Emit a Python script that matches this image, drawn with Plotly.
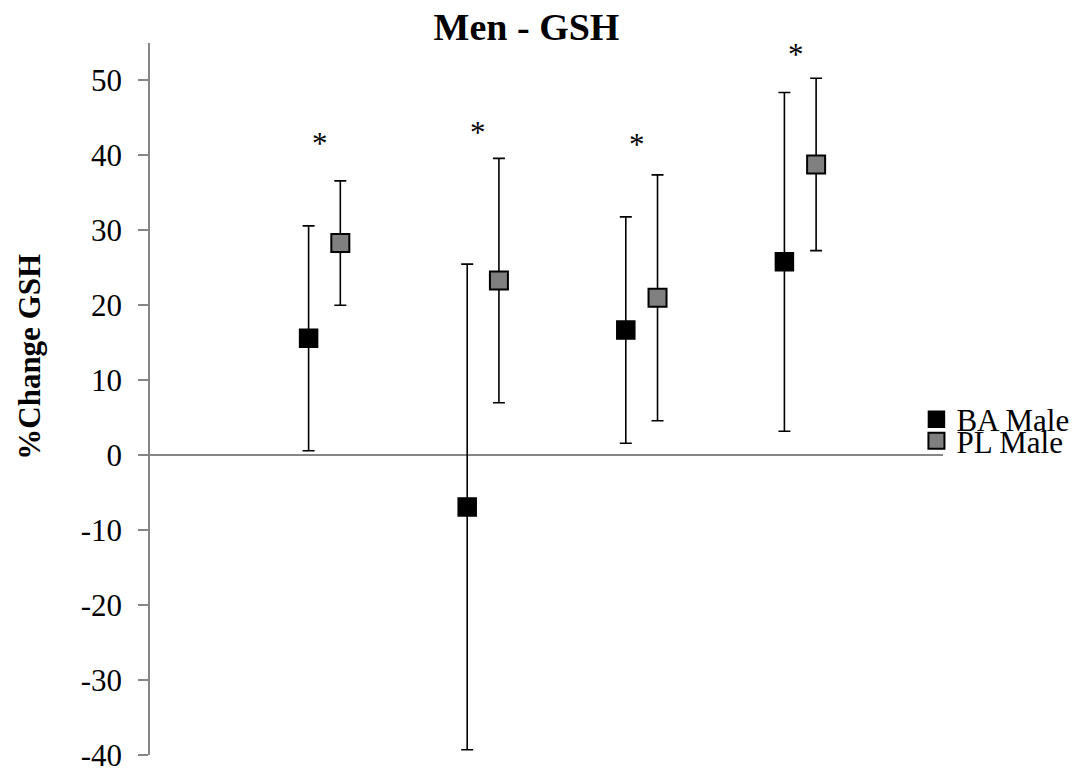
import plotly.graph_objects as go

# ---- data ----
groups = [1, 2, 3, 4]
ba_mean = [15.6, -6.9, 16.7, 25.8]
ba_err = [15.0, 32.4, 15.1, 22.6]
pl_mean = [28.3, 23.3, 21.0, 38.8]
pl_err = [8.3, 16.3, 16.4, 11.5]
star_y = [42.0, 43.4, 41.9, 53.8]
series_names = ["BA Male", "PL Male"]
y_ticks = [-40, -30, -20, -10, 0, 10, 20, 30, 40, 50]

FONT = "Liberation Serif, Times New Roman, serif"
GRAY_AX = "#868686"
PL_OFFSET = 0.2
STAR_OFFSET = 0.07

# the page body adds an 8px margin at left/top; margins compensate for it
FIG_W, FIG_H = 1077, 765

fig = go.Figure()

fig.add_trace(go.Scatter(
    x=groups, y=ba_mean, mode="markers", name=series_names[0],
    marker=dict(symbol="square", size=18, color="black",
                line=dict(color="black", width=1.5)),
    error_y=dict(type="data", array=ba_err, visible=True,
                 color="black", thickness=1.6, width=6),
    legend="legend",
))
fig.add_trace(go.Scatter(
    x=[g + PL_OFFSET for g in groups], y=pl_mean, mode="markers",
    name=series_names[1],
    marker=dict(symbol="square", size=18, color="#808080",
                line=dict(color="black", width=2)),
    error_y=dict(type="data", array=pl_err, visible=True,
                 color="black", thickness=1.6, width=6),
    legend="legend2",
))

for g, sy in zip(groups, star_y):
    fig.add_annotation(x=g + STAR_OFFSET, y=sy, xref="x", yref="y",
                       text="*", showarrow=False,
                       font=dict(family=FONT, size=31, color="black"),
                       xanchor="center", yanchor="middle", yshift=-3)

fig.add_annotation(x=-0.152, y=0.56, xref="paper", yref="paper",
                   text="<b>%Change GSH</b>", textangle=-90, showarrow=False,
                   font=dict(family=FONT, size=31, color="black"),
                   xanchor="center", yanchor="middle")

fig.update_layout(
    width=FIG_W, height=FIG_H,
    margin=dict(l=142, r=FIG_W - 142 - 793, t=35, b=17.5, autoexpand=False),
    paper_bgcolor="white", plot_bgcolor="white",
    title=dict(text="<b>Men - GSH</b>", x=518.5 / FIG_W, xanchor="center",
               y=1 - 19 / FIG_H, yanchor="middle",
               font=dict(family=FONT, size=38, color="black")),
    font=dict(family=FONT, color="black"),
    xaxis=dict(range=[0, 5], showline=False, showgrid=False,
               zeroline=False, showticklabels=False, ticks="",
               automargin=False),
    yaxis=dict(range=[-40, 55], tickvals=y_ticks,
               ticktext=[str(v) for v in y_ticks],
               showgrid=False, showline=True, linecolor=GRAY_AX,
               linewidth=1.5, ticks="outside", ticklen=10,
               tickcolor=GRAY_AX, tickwidth=1.5,
               zeroline=True, zerolinecolor=GRAY_AX, zerolinewidth=1.5,
               tickfont=dict(family=FONT, size=31, color="black"),
               ticklabelstandoff=10, automargin=False),
    legend=dict(x=0.9665, y=0.471, xanchor="left", yanchor="middle",
                font=dict(family=FONT, size=31, color="black"),
                bgcolor="rgba(0,0,0,0)"),
    legend2=dict(x=0.9665, y=0.441, xanchor="left", yanchor="middle",
                 font=dict(family=FONT, size=31, color="black"),
                 bgcolor="rgba(0,0,0,0)"),
    showlegend=True,
)

fig.write_html("out.html")
